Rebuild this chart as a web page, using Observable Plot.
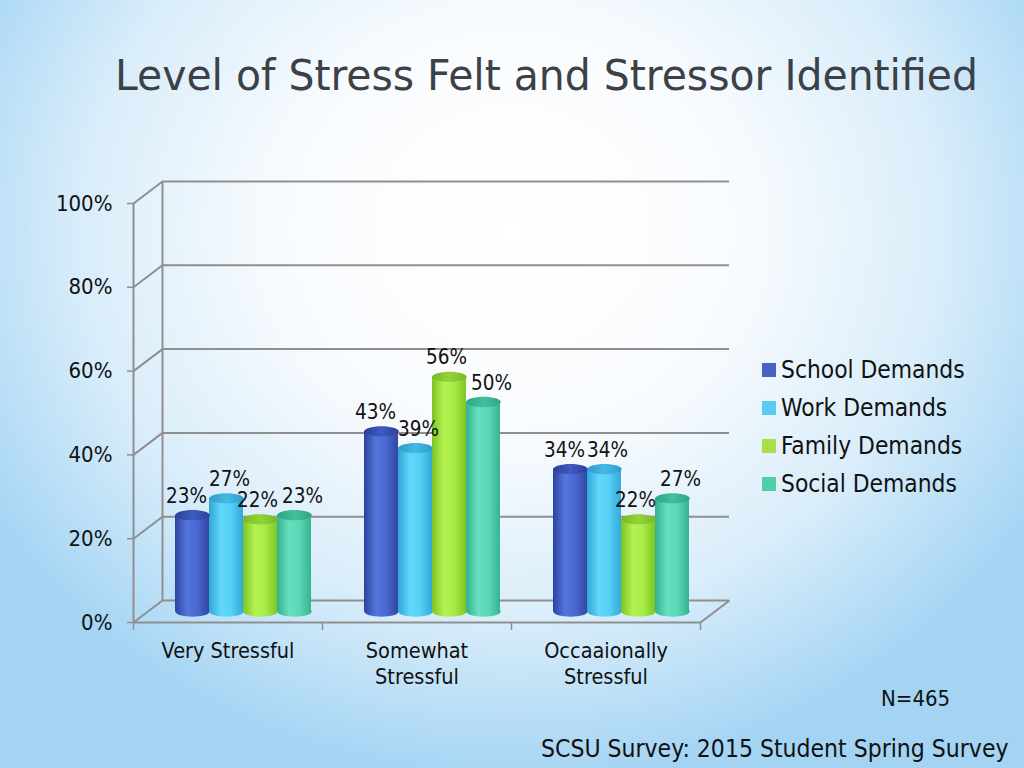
<!DOCTYPE html>
<html>
<head>
<meta charset="utf-8">
<script src="https://cdn.jsdelivr.net/npm/d3@7"></script>
<script src="https://cdn.jsdelivr.net/npm/@observablehq/plot@0.6"></script>
<style>
html, body { margin: 0; padding: 0; }
body {
  width: 1024px; height: 768px; overflow: hidden; position: relative;
  font-family: "DejaVu Sans", sans-serif; font-stretch: condensed; color: #111;
  background:
    radial-gradient(ellipse 60% 72% at 50% 30%, #ffffff 0%, #f8fbfe 38%, #d9edfa 70%, #a3d4f4 100%);
}
#title { position: absolute; left: 115px; top: 55px; font-size: 42px; line-height: 42px;
  color: #3b4147; white-space: nowrap; transform-origin: left top; }
.layer { position: absolute; left: 0; top: 0; }
.lg { position: absolute; left: 762px; font-size: 24.3px; line-height: 24.3px; height: 24.3px;
  display: flex; align-items: center; white-space: nowrap; }
.sw { width: 14px; height: 14px; margin-right: 5px; }
#n { position: absolute; left: 881px; top: 688px; font-size: 22px; line-height: 22px; }
#src { position: absolute; left: 541px; top: 737px; font-size: 24.5px; line-height: 24.5px; white-space: nowrap; }
</style>
</head>
<body>
<svg width="0" height="0" style="position:absolute">
  <defs>
    <linearGradient id="g0" x1="0" x2="1" y1="0" y2="0">
      <stop offset="0" stop-color="#2c42a0"/><stop offset="0.35" stop-color="#5676dc"/>
      <stop offset="0.65" stop-color="#4a68d0"/><stop offset="1" stop-color="#2f46a4"/>
    </linearGradient>
    <linearGradient id="g1" x1="0" x2="1" y1="0" y2="0">
      <stop offset="0" stop-color="#2fa6d6"/><stop offset="0.35" stop-color="#62d8fb"/>
      <stop offset="0.65" stop-color="#55d0f6"/><stop offset="1" stop-color="#33a9d8"/>
    </linearGradient>
    <linearGradient id="g2" x1="0" x2="1" y1="0" y2="0">
      <stop offset="0" stop-color="#7cc224"/><stop offset="0.35" stop-color="#b4f352"/>
      <stop offset="0.65" stop-color="#a8ec44"/><stop offset="1" stop-color="#7fc428"/>
    </linearGradient>
    <linearGradient id="g3" x1="0" x2="1" y1="0" y2="0">
      <stop offset="0" stop-color="#33b08e"/><stop offset="0.35" stop-color="#66e0be"/>
      <stop offset="0.65" stop-color="#5bd8b6"/><stop offset="1" stop-color="#36b392"/>
    </linearGradient>
    <linearGradient id="t0" x1="0" x2="1" y1="0" y2="0">
      <stop offset="0" stop-color="#2b3f96"/><stop offset="0.5" stop-color="#3f5cc4"/><stop offset="1" stop-color="#2b3f96"/>
    </linearGradient>
    <linearGradient id="t1" x1="0" x2="1" y1="0" y2="0">
      <stop offset="0" stop-color="#2e9ccc"/><stop offset="0.5" stop-color="#45b9e4"/><stop offset="1" stop-color="#2e9ccc"/>
    </linearGradient>
    <linearGradient id="t2" x1="0" x2="1" y1="0" y2="0">
      <stop offset="0" stop-color="#78b824"/><stop offset="0.5" stop-color="#94d43a"/><stop offset="1" stop-color="#78b824"/>
    </linearGradient>
    <linearGradient id="t3" x1="0" x2="1" y1="0" y2="0">
      <stop offset="0" stop-color="#2fa483"/><stop offset="0.5" stop-color="#45bf9c"/><stop offset="1" stop-color="#2fa483"/>
    </linearGradient>
  </defs>
</svg>
<div id="title">Level of Stress Felt and Stressor Identified</div>
<div id="frame" class="layer"></div>
<div id="bars" class="layer"></div>
<div id="legend"></div>
<div id="n">N=465</div>
<div id="src">SCSU Survey: 2015 Student Spring Survey</div>
<script>
// ---- data ----
const categories = ["Very Stressful", "Somewhat Stressful", "Occaaionally Stressful"];
const categoryLabels = ["Very Stressful", "Somewhat\nStressful", "Occaaionally\nStressful"];
const series = ["School Demands", "Work Demands", "Family Demands", "Social Demands"];
const school = [23, 43, 34];
const work = [27, 39, 34];
const family = [22, 56, 22];
const social = [23, 50, 27];
const yTicks = [0, 20, 40, 60, 80, 100];

// ---- styles ----
const legendColors = ["#4a62c4", "#5ccaf0", "#a9e04a", "#4ecfa6"];
const bodyFills = ["url(#g0)", "url(#g1)", "url(#g2)", "url(#g3)"];
const topFills = ["url(#t0)", "url(#t1)", "url(#t2)", "url(#t3)"];
const labelShift = [-6, 3, -3, 8];   // per-series label nudge (px), as in the original layout
const W = 1024, H = 768;
const M = {top: 203, right: 324, bottom: 146, left: 133};
const depthX = 29, depthY = 22;
const gridColor = "#8f8f8f";
const font = "\"DejaVu Sans\", sans-serif";

const valuesBySeries = [school, work, family, social];
const table = categories.flatMap((c, i) =>
  series.map((s, j) => ({category: c, series: s, si: j, value: valuesBySeries[j][i]})));

// data-unit equivalents of the 3D depth offset
const xUnit = 3 * depthX / (W - M.left - M.right);
const yUnit = 100 * depthY / (H - M.top - M.bottom);

const common = {
  width: W, height: H,
  marginTop: M.top, marginRight: M.right, marginBottom: M.bottom, marginLeft: M.left,
  style: {background: "transparent", overflow: "visible", fontFamily: font, fontStretch: "condensed", color: "#111"}
};

// ---- frame: walls, gridlines, axes ----
const frame = Plot.plot({
  ...common,
  x: {domain: [0, 3]},
  y: {domain: [0, 100]},
  marks: [
    Plot.ruleY(yTicks, {stroke: gridColor, strokeWidth: 2, dx: depthX, dy: -depthY}),
    Plot.ruleX([0], {y1: 0, y2: 100, stroke: gridColor, strokeWidth: 2, dx: depthX, dy: -depthY}),
    Plot.link(yTicks, {x1: 0, x2: xUnit, y1: d => d, y2: d => d + yUnit, stroke: gridColor, strokeWidth: 2}),
    Plot.link([3], {x1: d => d, x2: d => d + xUnit, y1: 0, y2: yUnit, stroke: gridColor, strokeWidth: 2}),
    Plot.ruleY([0], {stroke: gridColor, strokeWidth: 2}),
    Plot.ruleX([0], {y1: 0, y2: 100, stroke: gridColor, strokeWidth: 2}),
    Plot.axisY(yTicks, {tickFormat: d => d + "%", tickSize: 6, tickPadding: 15, fontSize: 22,
      stroke: gridColor, strokeWidth: 1.5, fill: "#111", label: null}),
    Plot.axisX([0, 1, 2, 3], {tickFormat: () => "", tickSize: 8, stroke: gridColor, strokeWidth: 1.5, label: null}),
    Plot.text(categoryLabels, {x: (d, i) => i + 0.5, y: 0, dy: 17, lineAnchor: "top",
      fontSize: 21.5, lineHeight: 1.22, fill: "#111"})
  ]
});
document.getElementById("frame").append(frame);

// ---- bars ----
const ellipse = {
  draw(ctx, size) {
    const rx = Math.sqrt(size / Math.PI), ry = rx * 0.3, k = 0.5523;
    ctx.moveTo(rx, 0);
    ctx.bezierCurveTo(rx, ry * k, rx * k, ry, 0, ry);
    ctx.bezierCurveTo(-rx * k, ry, -rx, ry * k, -rx, 0);
    ctx.bezierCurveTo(-rx, -ry * k, -rx * k, -ry, 0, -ry);
    ctx.bezierCurveTo(rx * k, -ry, rx, -ry * k, rx, 0);
    ctx.closePath();
  }
};
const shiftX = 15, shiftY = -11, barR = 17.2;
const bars = Plot.plot({
  ...common,
  fx: {domain: categories, padding: 0, axis: null},
  x: {domain: series, paddingInner: 0, paddingOuter: 0.74, axis: null},
  y: {domain: [0, 100], axis: null},
  color: {domain: series, range: bodyFills},
  marks: [
    Plot.dot(table, {fx: "category", x: "series", y: () => 0, symbol: ellipse, r: barR,
      fill: "series", stroke: "none", dx: shiftX, dy: shiftY}),
    Plot.barY(table, {fx: "category", x: "series", y: "value", fill: "series", dx: shiftX, dy: shiftY}),
    Plot.dot(table, {fx: "category", x: "series", y: "value", symbol: ellipse, r: barR,
      fill: d => topFills[d.si], stroke: "none", dx: shiftX, dy: shiftY}),
    ...series.map((s, j) => Plot.text(table.filter(d => d.si === j), {
      fx: "category", x: "series", y: "value", text: d => d.value + "%",
      dx: shiftX + labelShift[j], dy: shiftY - 19, fontSize: 20.5, fill: "#111"}))
  ]
});
document.getElementById("bars").append(bars);

// ---- legend ----
const legend = document.getElementById("legend");
series.forEach((s, j) => {
  const row = document.createElement("div");
  row.className = "lg";
  row.style.top = (358 + j * 38) + "px";
  const sw = document.createElement("span");
  sw.className = "sw";
  sw.style.background = legendColors[j];
  row.append(sw, document.createTextNode(s));
  legend.append(row);
});

// ---- fit title width ----
const t = document.getElementById("title");
const tw = t.getBoundingClientRect().width;
t.style.transform = `scaleX(${863 / tw})`;
</script>
</body>
</html>
